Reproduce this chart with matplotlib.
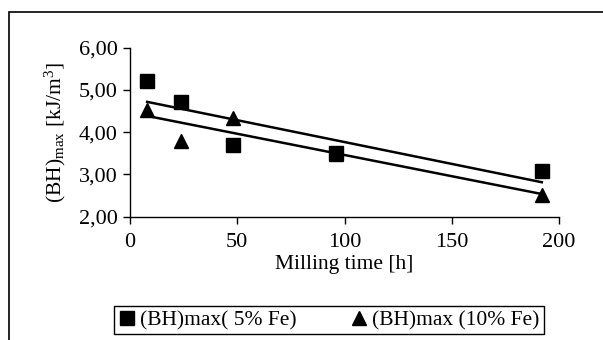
import matplotlib
matplotlib.use('Agg')
import matplotlib.pyplot as plt
from matplotlib.patches import Rectangle
import numpy as np

plt.rcParams['font.family'] = ['Liberation Serif', 'DejaVu Serif']
plt.rcParams['mathtext.fontset'] = 'custom'
plt.rcParams['mathtext.rm'] = 'Liberation Serif'
plt.rcParams['mathtext.it'] = 'Liberation Serif:italic'

# Data
milling_time = [8, 24, 48, 96, 192]
bh_5fe = [5.20, 4.72, 3.70, 3.50, 3.08]
bh_10fe = [4.53, 3.78, 4.33, 3.48, 2.51]
yticks = [2, 3, 4, 5, 6]
ytick_labels = ['2,00', '3,00', '4,00', '5,00', '6,00']
xticks = [0, 50, 100, 150, 200]

fig = plt.figure(figsize=(6.03, 3.4), dpi=100)
ax = fig.add_axes([130 / 603, 1 - 216.7 / 340, (559 - 130) / 603, (216.7 - 47.7) / 340])

# outer chart frame
fig.patches.append(Rectangle((9 / 603, -0.2), 1.2, 1 - 12 / 340 + 0.2, transform=fig.transFigure,
                             fill=False, edgecolor='black', linewidth=1.2))

# triangles first so the squares sit on top of them
tri, = ax.plot(milling_time, bh_10fe, '^', color='black', markersize=10.5, label='(BH)max (10% Fe)', clip_on=False)
sq, = ax.plot(milling_time, bh_5fe, 's', color='black', markersize=10.5, label='(BH)max( 5% Fe)', clip_on=False)

# linear trend lines
xs = np.array([milling_time[0], milling_time[-1]])
for vals in (bh_5fe, bh_10fe):
    k, b = np.polyfit(milling_time, vals, 1)
    ax.plot(xs, k * xs + b, color='black', linewidth=1.8)

ax.set_xlim(0, 200)
ax.set_ylim(2, 6)
ax.set_xticks(xticks)
ax.set_yticks(yticks)
ax.set_yticklabels(ytick_labels)
ax.tick_params(direction='out', length=5, width=1, labelsize=16, pad=4)
ax.tick_params(axis='x', pad=7)
for s in ['top', 'right']:
    ax.spines[s].set_visible(False)
for s in ['left', 'bottom']:
    ax.spines[s].set_linewidth(1)

ax.set_xlabel('Milling time [h]', fontsize=15.5, labelpad=2)
ax.set_ylabel(r'(BH)$_{\mathrm{max}}$ [kJ/m$^{3}$]', fontsize=15.5, labelpad=8)

leg = fig.legend(handles=[sq, tri], loc='center', bbox_to_anchor=((110 + 548) / 2 / 603, 1 - 320 / 340), ncol=2,
                 fontsize=15.5, frameon=True, fancybox=False, edgecolor='black', framealpha=1,
                 handlelength=0.8, handletextpad=0.2, columnspacing=2.5, borderpad=0.2)
leg.get_frame().set_linewidth(1)

fig.savefig('out.png', dpi=100)
